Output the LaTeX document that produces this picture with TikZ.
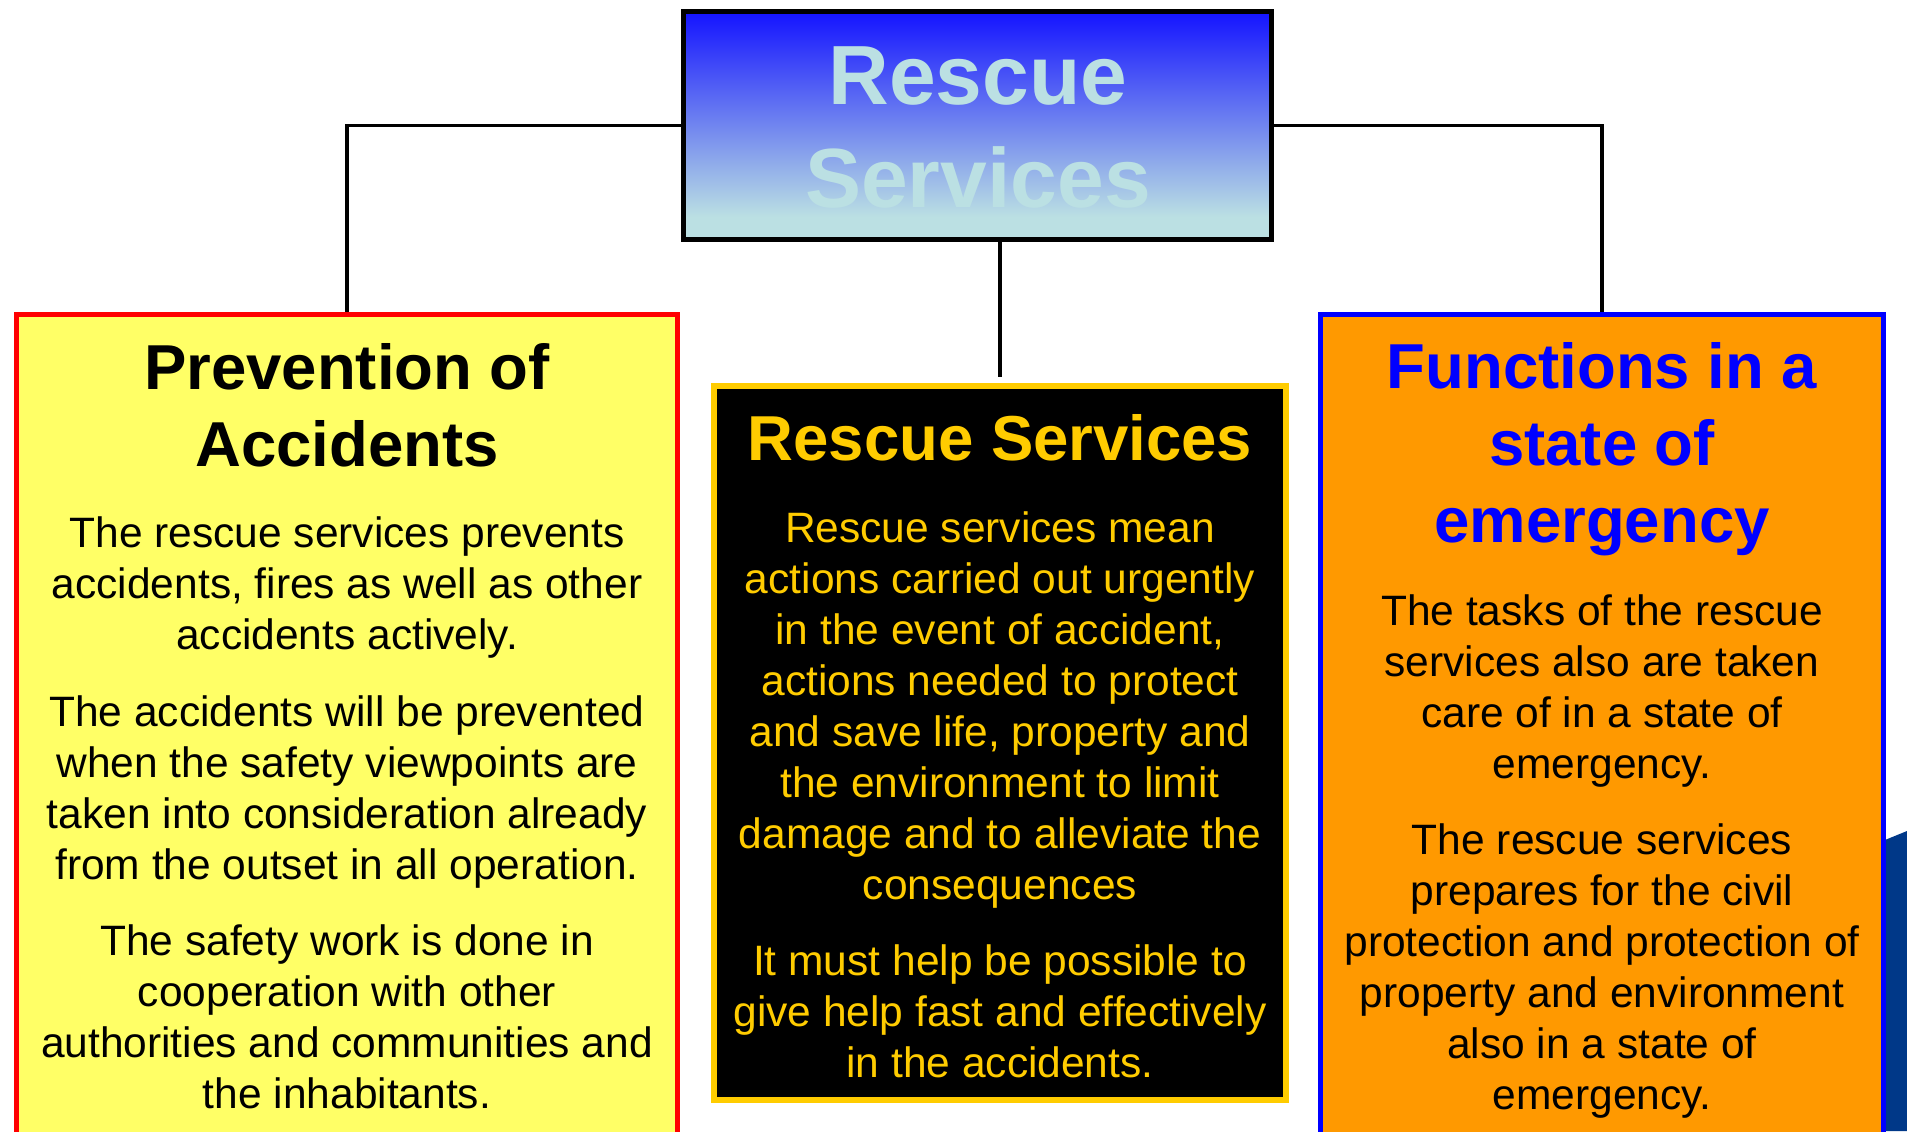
\documentclass[tikz,border=0pt]{standalone}
\usepackage{fontspec}
\setmainfont{Liberation Sans}
\usetikzlibrary{backgrounds}
\definecolor{lemon}{RGB}{255, 255, 102}
\definecolor{gold}{RGB}{255, 204, 0}
\definecolor{amber}{RGB}{255, 153, 0}
\definecolor{navy}{RGB}{0, 56, 136}
\definecolor{ice}{RGB}{187, 224, 227}
\definecolor{deepblue}{RGB}{20, 20, 255}
\pgfdeclareverticalshading{titleshade}{100bp}{color(0bp)=(ice); color(30bp)=(ice); color(75bp)=(deepblue); color(100bp)=(deepblue)}

\begin{document}
\begin{tikzpicture}[x=0.5pt, y=-0.5pt,
  box/.style={rectangle, outer sep=0pt, inner sep=0pt, anchor=north west},
  head/.style={align=center, inner sep=0pt, anchor=north, font=\bfseries\fontsize{31.75}{38.5}\selectfont},
  body/.style={align=center, inner sep=0pt, anchor=north, font=\fontsize{21.25}{25.5}\selectfont},
  link/.style={line width=1.75pt}]
  \useasboundingbox (0, 0) rectangle (1907, 1131);
  \clip (0, 0) rectangle (1907, 1131);

  \fill[navy] (1880, 842) -- (1907, 831) -- (1907, 1131) -- (1880, 1131) -- cycle;

  \node[box, draw=black, line width=2.5pt, shade, shading=titleshade,
    minimum width=294pt, minimum height=114pt] (title) at (683.5, 11.5) {};
  \node[align=center, inner sep=0pt, anchor=north, text=ice,
    font=\bfseries\fontsize{42}{51.5}\selectfont] (titletext) at (978, 46) {Rescue\\Services};

  \node[box, draw=red, fill=lemon, line width=2.5pt,
    minimum width=330.5pt, minimum height=420pt] (prev) at (16.5, 314.5) {};
  \node[head] (prevhead) at (347, 343.5) {Prevention of\\Accidents};
  \node[body] (prevtext) at (347, 516.6) {The rescue services prevents\\
    accidents, fires as well as other\\
    accidents actively.\\[12.75pt]The accidents will be prevented\\
    when the safety viewpoints are\\
    taken into consideration already\\
    from the outset in all operation.\\[12.75pt]The safety work is done in\\
    cooperation with other\\
    authorities and communities and\\
    the inhabitants.};

  \node[box, draw=gold, fill=black, line width=3pt,
    minimum width=286pt, minimum height=357pt] (mid) at (714, 386) {};
  \node[head, text=gold] (midhead) at (1000, 414.5) {Rescue Services};
  \node[body, text=gold] (midtext) at (1000, 511.6) {Rescue services mean\\
    actions carried out urgently\\
    in the event of accident,\\
    actions needed to protect\\
    and save life, property and\\
    the environment to limit\\
    damage and to alleviate the\\
    consequences\\[12.5pt]It must help be possible to\\
    give help fast and effectively\\
    in the accidents.};

  \node[box, draw=blue, fill=amber, line width=2.5pt,
    minimum width=281.5pt, minimum height=420pt] (func) at (1320.5, 314.5) {};
  \node[head, text=blue] (funchead) at (1602, 342.5) {Functions in a\\state of\\emergency};
  \node[body] (functext) at (1602, 594.6) {The tasks of the rescue\\
    services also are taken\\
    care of in a state of\\
    emergency.\\[12.5pt]The rescue services\\
    prepares for the civil\\
    protection and protection of\\
    property and environment\\
    also in a state of\\
    emergency.};

  \begin{scope}[on background layer]
    \draw[link] (title.west) -| (prev.north);
    \draw[link] (title.east) -| (func.north);
    \draw[link] (title.south -| mid.north) -- ([yshift=4.5pt]mid.north);
  \end{scope}
\end{tikzpicture}
\end{document}
